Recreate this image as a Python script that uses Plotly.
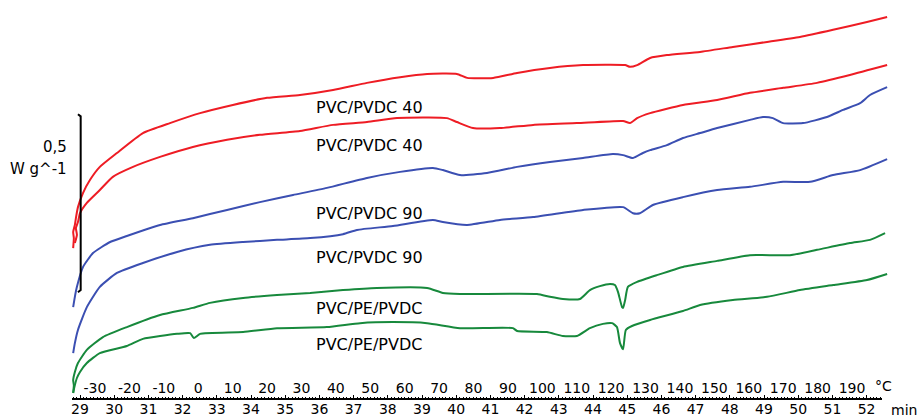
import numpy as np
import plotly.graph_objects as go

# ---------------- data (time in min, heat flow in W/g) ----------------
red1_t = [28.80, 28.82, 28.80, 28.85, 28.88, 28.94, 29.09, 29.29, 29.58, 30.08, 30.84, 31.63, 32.51, 33.47,
          34.47, 35.43, 36.40, 37.39, 38.36, 39.15, 40.02, 40.32, 41.08, 41.78, 42.74, 43.71, 44.94, 45.08,
          45.29, 45.67, 46.16, 47.13, 48.09, 49.09, 50.05, 51.02, 52.01, 52.60]
red1_w = [0.424, 0.452, 0.469, 0.489, 0.508, 0.539, 0.579, 0.615, 0.652, 0.691, 0.747, 0.775, 0.803, 0.826,
          0.846, 0.854, 0.868, 0.888, 0.904, 0.913, 0.913, 0.902, 0.902, 0.916, 0.930, 0.938, 0.938, 0.933,
          0.938, 0.958, 0.966, 0.975, 0.989, 1.003, 1.017, 1.037, 1.059, 1.073]

red2_t = [28.85, 28.91, 28.88, 28.94, 29.00, 29.20, 29.58, 29.96, 30.55, 31.34, 32.30, 33.30, 34.26, 35.43,
          36.40, 37.39, 38.27, 39.73, 40.02, 40.49, 41.28, 42.25, 43.53, 44.88, 45.08, 45.29, 45.67, 46.63,
          47.63, 48.59, 49.56, 50.55, 51.51, 52.60]
red2_w = [0.438, 0.461, 0.480, 0.497, 0.522, 0.551, 0.587, 0.624, 0.652, 0.680, 0.708, 0.728, 0.742, 0.753,
          0.770, 0.778, 0.789, 0.789, 0.778, 0.761, 0.761, 0.770, 0.775, 0.781, 0.775, 0.789, 0.803, 0.826,
          0.840, 0.860, 0.874, 0.888, 0.910, 0.938]

blue1_t = [28.80, 28.85, 28.91, 29.09, 29.38, 29.88, 30.37, 31.34, 32.30, 33.30, 34.26, 35.23, 36.22, 37.39,
           38.36, 39.32, 39.61, 40.11, 40.90, 41.78, 42.74, 43.71, 44.58, 44.88, 45.17, 45.46, 45.67, 46.16,
           46.63, 47.13, 47.63, 48.59, 48.97, 49.26, 49.56, 50.14, 50.84, 51.31, 51.81, 52.10, 52.60]
blue1_w = [0.258, 0.287, 0.315, 0.371, 0.410, 0.441, 0.458, 0.489, 0.508, 0.531, 0.553, 0.573, 0.593, 0.621,
           0.638, 0.649, 0.643, 0.629, 0.635, 0.652, 0.666, 0.677, 0.688, 0.685, 0.677, 0.691, 0.699, 0.713,
           0.733, 0.747, 0.761, 0.784, 0.792, 0.789, 0.775, 0.775, 0.792, 0.812, 0.831, 0.854, 0.876]

blue2_t = [28.80, 28.85, 28.94, 29.20, 29.58, 30.08, 30.84, 31.84, 32.80, 33.77, 34.76, 35.73, 36.69, 37.10,
           38.15, 39.32, 39.61, 40.32, 41.28, 42.25, 43.71, 44.88, 45.17, 45.37, 45.75, 46.63, 47.63, 48.59,
           49.56, 50.35, 51.02, 51.81, 52.60]
blue2_w = [0.129, 0.157, 0.194, 0.258, 0.315, 0.354, 0.382, 0.413, 0.433, 0.441, 0.447, 0.452, 0.463, 0.475,
           0.486, 0.503, 0.497, 0.489, 0.503, 0.511, 0.531, 0.539, 0.522, 0.522, 0.545, 0.567, 0.587, 0.596,
           0.610, 0.610, 0.629, 0.643, 0.674]

green1_t = [28.80, 28.82, 28.80, 28.85, 28.94, 29.20, 29.67, 30.37, 31.34, 32.30, 32.80, 33.77, 34.76, 35.73,
            36.69, 37.68, 39.15, 39.61, 40.11, 42.36, 42.74, 43.12, 43.62, 43.91, 44.20, 44.50, 44.64, 44.73,
            44.85, 44.88, 44.94, 45.02, 45.29, 45.87, 46.63, 47.63, 48.59, 49.76, 50.55, 51.51, 52.10, 52.54]
green1_w = [0.017, 0.039, 0.053, 0.076, 0.101, 0.138, 0.174, 0.202, 0.236, 0.256, 0.270, 0.284, 0.292, 0.298,
            0.306, 0.312, 0.312, 0.298, 0.295, 0.295, 0.287, 0.281, 0.281, 0.306, 0.317, 0.323, 0.320, 0.301,
            0.258, 0.256, 0.278, 0.315, 0.329, 0.348, 0.371, 0.388, 0.404, 0.404, 0.419, 0.438, 0.447, 0.466]

green2_t = [28.80, 28.85, 28.91, 29.00, 29.20, 29.58, 30.37, 30.84, 31.84, 32.22, 32.33, 32.51, 33.77, 34.76,
            36.22, 37.19, 38.15, 39.15, 40.11, 41.66, 41.78, 42.65, 43.12, 43.53, 43.91, 44.29, 44.56, 44.70,
            44.79, 44.88, 44.96, 45.14, 45.67, 46.63, 47.13, 48.09, 49.09, 50.05, 51.02, 52.01, 52.60]
green2_w = [0.017, 0.039, 0.059, 0.076, 0.101, 0.129, 0.149, 0.169, 0.183, 0.185, 0.171, 0.183, 0.188, 0.199,
            0.202, 0.213, 0.216, 0.213, 0.199, 0.199, 0.191, 0.188, 0.177, 0.177, 0.199, 0.211, 0.213, 0.202,
            0.157, 0.140, 0.194, 0.205, 0.222, 0.247, 0.264, 0.278, 0.287, 0.306, 0.320, 0.334, 0.351]

curve_labels = ["PVC/PVDC 40", "PVC/PVDC 40", "PVC/PVDC 90", "PVC/PVDC 90", "PVC/PE/PVDC", "PVC/PE/PVDC"]
time_ticks = list(range(29, 53))
temp_ticks = list(range(-30, 200, 10))
scale_bar_w = [0.30, 0.80]          # 0,5 W g^-1 scale bar
scale_text = ["0,5", "W g^-1"]

# ---------------- geometry / style ----------------
W_PX, H_PX = 917, 419
PLOT_H = 399
PX_PER_MIN, X0_PX, X0_MIN = 34.2, 80, 29
PX_PER_DEG, T0_PX, T0_DEG = 3.441, 95, -30
PX_PER_W = 356

time_range = [X0_MIN - X0_PX / PX_PER_MIN, X0_MIN + (W_PX - X0_PX) / PX_PER_MIN]
temp_range = [T0_DEG - T0_PX / PX_PER_DEG, T0_DEG + (W_PX - T0_PX) / PX_PER_DEG]
y_range = [0, PLOT_H / PX_PER_W]

RED, BLUE, GREEN = "#ee1c24", "#3b4fb2", "#17893c"
FONT = "DejaVu Sans"
INK = "#000000"


def fx(px):
    return px / W_PX


def fy(py):
    return (PLOT_H - py) / PLOT_H


series = [(red1_t, red1_w, RED), (red2_t, red2_w, RED), (blue1_t, blue1_w, BLUE),
          (blue2_t, blue2_w, BLUE), (green1_t, green1_w, GREEN), (green2_t, green2_w, GREEN)]

fig = go.Figure()
for t, w, c in series:
    fig.add_trace(go.Scatter(x=t, y=w, mode="lines",
                             line=dict(color=c, width=2, shape="spline", smoothing=0.5),
                             showlegend=False, hoverinfo="skip"))

# invisible trace for the temperature axis
fig.add_trace(go.Scatter(x=[temp_ticks[0]], y=[0], xaxis="x2", mode="markers",
                         marker=dict(opacity=0), showlegend=False, hoverinfo="skip"))

minor_vals = [round(v, 2) for v in np.arange(28.8, 52.45, 0.1)]

fig.update_layout(
    width=W_PX, height=H_PX,
    margin=dict(l=0, r=0, t=0, b=H_PX - PLOT_H, pad=0),
    paper_bgcolor="white", plot_bgcolor="white",
    font=dict(family=FONT, size=14, color=INK),
    xaxis=dict(range=time_range, domain=[0, 1], tickmode="array", tickvals=time_ticks,
               ticktext=[str(v) for v in time_ticks], ticks="inside", ticklen=4, tickwidth=1,
               tickcolor=INK, showgrid=False, zeroline=False, showline=False,
               tickfont=dict(family=FONT, size=14, color=INK),
               minor=dict(tickmode="array", tickvals=minor_vals, ticks="inside", ticklen=2,
                          tickwidth=1, tickcolor=INK, showgrid=False)),
    xaxis2=dict(range=temp_range, overlaying="x", anchor="y", side="bottom", tickmode="array",
                tickvals=temp_ticks, ticktext=[str(v) for v in temp_ticks], ticks="",
                ticklabelposition="inside", showgrid=False, zeroline=False, showline=False,
                tickfont=dict(family=FONT, size=14, color=INK)),
    yaxis=dict(range=y_range, visible=False, showgrid=False, zeroline=False),
)

# axis baseline
fig.add_shape(type="line", xref="paper", yref="paper", x0=fx(72), x1=fx(882), y0=0, y1=0,
              line=dict(color=INK, width=2))

# scale bar
tb, hk = X0_MIN + 0.02, 0.08
bot, top = scale_bar_w
fig.add_shape(type="path", xref="x", yref="y",
              path=f"M {tb - hk},{top} L {tb},{top - 0.006} L {tb},{bot + 0.006} L {tb - hk},{bot}",
              line=dict(color=INK, width=2))

# curve labels
label_py = [107, 145, 213, 257, 308, 344]
for txt, py in zip(curve_labels, label_py):
    fig.add_annotation(text=txt, xref="paper", yref="paper", x=fx(314), y=fy(py),
                       xanchor="left", yanchor="middle", showarrow=False,
                       font=dict(family=FONT, size=16, color=INK))

for txt, py in zip(scale_text, [147, 169]):
    fig.add_annotation(text=txt, xref="paper", yref="paper", x=fx(69), y=fy(py),
                       xanchor="right", yanchor="middle", showarrow=False,
                       font=dict(family=FONT, size=15, color=INK))

fig.add_annotation(text="°C", xref="paper", yref="paper", x=fx(883), y=fy(386),
                   xanchor="center", yanchor="middle", showarrow=False,
                   font=dict(family=FONT, size=14, color=INK))
fig.add_annotation(text="min", xref="paper", yref="paper", x=fx(904), y=fy(410),
                   xanchor="center", yanchor="middle", showarrow=False,
                   font=dict(family=FONT, size=14, color=INK))

fig.write_html("out.html", config={"displayModeBar": False})
